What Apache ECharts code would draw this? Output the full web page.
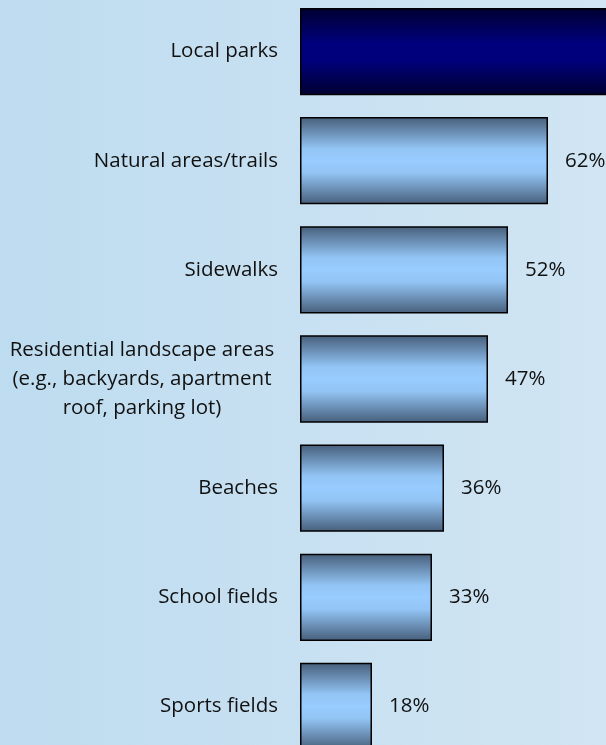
<!DOCTYPE html>
<html>
<head>
<meta charset="utf-8">
<script src="https://cdn.jsdelivr.net/npm/echarts@6/dist/echarts.min.js"></script>
<style>html,body{margin:0;padding:0;}#c{width:606px;height:745px;}</style>
</head>
<body>
<div id="c"></div>
<script>
var categories = ['Local parks', 'Natural areas/trails', 'Sidewalks', 'Residential landscape areas\n(e.g., backyards, apartment\nroof, parking lot)', 'Beaches', 'School fields', 'Sports fields'];
var values = [80, 62, 52, 47, 36, 33, 18];
var highlightIndex = 0;

var lightGrad = new echarts.graphic.LinearGradient(0, 0, 0, 1, [
  {offset: 0, color: '#465e7a'},
  {offset: 0.36, color: '#92c4f4'},
  {offset: 0.5, color: '#99ccff'},
  {offset: 0.64, color: '#92c4f4'},
  {offset: 1, color: '#465e7a'}
]);
var darkGrad = new echarts.graphic.LinearGradient(0, 0, 0, 1, [
  {offset: 0, color: '#000030'},
  {offset: 0.4, color: '#00007c'},
  {offset: 0.6, color: '#00007c'},
  {offset: 1, color: '#000030'}
]);

var data = values.map(function (v, i) {
  return {
    value: v,
    itemStyle: {color: i === highlightIndex ? darkGrad : lightGrad, borderColor: '#000', borderWidth: 1.5}
  };
});

var FS = 20.5;
var chart = echarts.init(document.getElementById('c'), null, {renderer: 'canvas'});
chart.setOption({
  animation: false,
  backgroundColor: new echarts.graphic.LinearGradient(0, 0, 1, 0, [
    {offset: 0, color: '#bedcf0'},
    {offset: 1, color: '#d1e5f3'}
  ]),
  grid: {left: 300, top: -3, width: 400, height: 764, outerBoundsMode: 'none', containLabel: false},
  xAxis: {type: 'value', min: 0, max: 100, show: false},
  yAxis: {
    type: 'category', inverse: true, data: categories,
    axisLine: {show: false}, axisTick: {show: false},
    axisLabel: {
      margin: 22, fontFamily: 'Open Sans', fontSize: FS, color: '#111', lineHeight: 29,
      formatter: function (v) {
        return v.indexOf('\n') >= 0 ? '{m|' + v + '}' : v;
      },
      rich: {m: {width: 272, align: 'center', fontFamily: 'Open Sans', fontSize: FS, color: '#111', lineHeight: 29}}
    }
  },
  series: [{
    type: 'bar', data: data, barCategoryGap: '20%',
    label: {show: true, position: 'right', distance: 17, fontFamily: 'Open Sans', fontSize: FS, color: '#111', formatter: '{c}%'}
  }]
});
</script>
</body>
</html>
